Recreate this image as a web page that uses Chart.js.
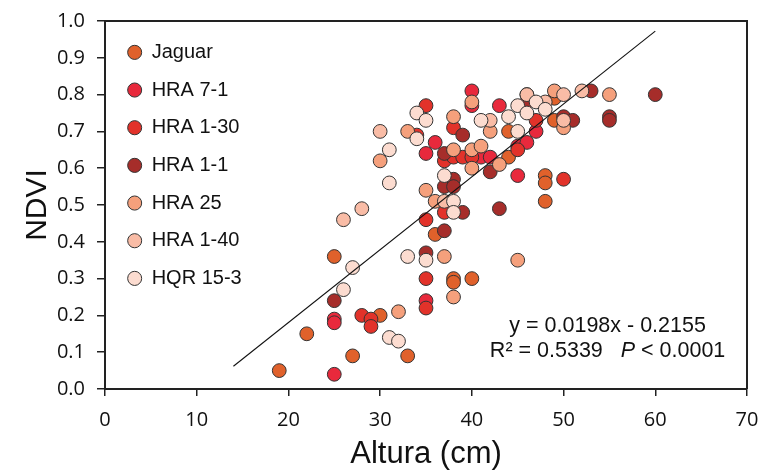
<!DOCTYPE html>
<html>
<head>
<meta charset="utf-8">
<script src="https://cdn.jsdelivr.net/npm/chart.js@4.4.1/dist/chart.umd.min.js"></script>
<style>
  html, body { margin: 0; padding: 0; background: #fff; }
  #wrap { width: 760px; height: 470px; }
</style>
</head>
<body>
<div id="wrap"><canvas id="c" width="760" height="470"></canvas></div>
<script>
// ---- data ----
const seriesNames = ["Jaguar", "HRA 7-1", "HRA 1-30", "HRA 1-1", "HRA 25", "HRA 1-40", "HQR 15-3"];

const jaguarX = [19, 22, 25, 27, 30, 33, 36, 38, 38, 40, 44, 44, 46, 48, 48, 48, 49, 49];
const jaguarY = [0.05, 0.15, 0.36, 0.09, 0.20, 0.09, 0.42, 0.30, 0.29, 0.30, 0.63, 0.70, 0.80, 0.58, 0.56, 0.51, 0.79, 0.73];

const hra71X = [25, 25, 25, 35, 35, 36, 40, 40, 41, 42, 43, 45, 45, 46, 47];
const hra71Y = [0.19, 0.18, 0.04, 0.24, 0.64, 0.67, 0.81, 0.77, 0.63, 0.63, 0.77, 0.58, 0.66, 0.67, 0.70];

const hra130X = [28, 29, 29, 35, 35, 35, 34, 35, 37, 37, 38, 39, 40, 38, 45, 47, 50];
const hra130Y = [0.20, 0.19, 0.17, 0.30, 0.22, 0.77, 0.69, 0.46, 0.48, 0.62, 0.63, 0.63, 0.63, 0.71, 0.65, 0.73, 0.57];

const hra11X = [25, 35, 37, 37, 37, 38, 38, 39, 39, 42, 43, 46, 50, 51, 53, 55, 55, 60];
const hra11Y = [0.24, 0.37, 0.43, 0.64, 0.55, 0.57, 0.55, 0.48, 0.69, 0.59, 0.49, 0.78, 0.74, 0.73, 0.81, 0.74, 0.73, 0.80];

const hra25X = [30, 32, 33, 35, 36, 37, 38, 38, 38, 40, 40, 40, 41, 42, 43, 45, 50, 55, 49];
const hra25Y = [0.62, 0.21, 0.70, 0.54, 0.51, 0.36, 0.25, 0.74, 0.65, 0.78, 0.65, 0.60, 0.66, 0.70, 0.61, 0.35, 0.71, 0.80, 0.81];

const hra140X = [26, 28, 30, 37, 42, 48, 50, 52, 50, 46];
const hra140Y = [0.46, 0.49, 0.70, 0.51, 0.73, 0.78, 0.80, 0.81, 0.73, 0.80];

const hqrX = [26, 27, 31, 32, 31, 31, 33, 34, 34, 35, 35, 37, 38, 38, 41, 44, 45, 45, 46, 47, 48];
const hqrY = [0.27, 0.33, 0.14, 0.13, 0.65, 0.56, 0.36, 0.75, 0.68, 0.73, 0.35, 0.58, 0.51, 0.48, 0.73, 0.74, 0.77, 0.70, 0.75, 0.78, 0.76];

// regression line end points (y = 0.0198x - 0.2155)
const trendX = [14, 60];
const trendY = [0.0617, 0.9725];

const xTicks = [0, 10, 20, 30, 40, 50, 60, 70];
const yTicks = [0.0, 0.1, 0.2, 0.3, 0.4, 0.5, 0.6, 0.7, 0.8, 0.9, 1.0];

const equationLine1 = "y = 0.0198x - 0.2155";
const equationLine2a = "R\u00B2 = 0.5339   ";
const equationLine2b = "P";
const equationLine2c = " < 0.0001";

// ---- styling ----
const colors = ["#e0612b", "#e8293c", "#e2322a", "#a62d2a", "#f5a07c", "#f9bca6", "#fcdcd0"];
const xsList = [jaguarX, hra71X, hra130X, hra11X, hra25X, hra140X, hqrX];
const ysList = [jaguarY, hra71Y, hra130Y, hra11Y, hra25Y, hra140Y, hqrY];

const pts = (xs, ys) => xs.map((x, i) => ({ x: x, y: ys[i] }));

const datasets = seriesNames.map((name, i) => ({
  type: 'scatter',
  label: name,
  data: pts(xsList[i], ysList[i]),
  backgroundColor: colors[i],
  borderColor: '#333',
  borderWidth: 1,
  pointRadius: 6.9,
  pointHoverRadius: 6.9,
  order: 10 - i
}));

datasets.push({
  type: 'line',
  label: 'trend',
  data: pts(trendX, trendY),
  borderColor: '#111',
  borderWidth: 1.1,
  pointRadius: 0,
  fill: false,
  order: 0
});

const FONT = "'Liberation Sans', Arial, sans-serif";
const TICKFONT = "'Open Sans', sans-serif";
const EQSIZE = 21.5;

const framePlugin = {
  id: 'frame',
  afterLayout(chart) {
    const lg = chart.legend;
    if (lg) { lg.left += 5; lg.right += 5; lg.top += 24.7; lg.bottom += 24.7; }
  },
  afterDraw(chart) {
    const { ctx, chartArea: a, scales } = chart;
    ctx.save();
    ctx.strokeStyle = '#222';
    ctx.lineWidth = 2;
    ctx.beginPath();
    ctx.moveTo(a.left, a.top);
    ctx.lineTo(a.right, a.top);
    ctx.lineTo(a.right, a.bottom);
    ctx.stroke();

    // equation text
    const cx = scales.x.getPixelForValue(54.8);
    const y1 = scales.y.getPixelForValue(0.170);
    const y2 = scales.y.getPixelForValue(0.104);
    ctx.fillStyle = '#111';
    ctx.textBaseline = 'middle';
    ctx.textAlign = 'center';
    const fN = EQSIZE + "px " + FONT, fI = "italic " + EQSIZE + "px " + FONT;
    ctx.font = fN;
    ctx.fillText(equationLine1, cx, y1);
    ctx.textAlign = 'left';
    ctx.font = fN; const wa = ctx.measureText(equationLine2a).width;
    ctx.font = fI; const wb = ctx.measureText(equationLine2b).width;
    ctx.font = fN; const wc = ctx.measureText(equationLine2c).width;
    let x0 = cx - (wa + wb + wc) / 2;
    ctx.font = fN; ctx.fillText(equationLine2a, x0, y2);
    ctx.font = fI; ctx.fillText(equationLine2b, x0 + wa, y2);
    ctx.font = fN; ctx.fillText(equationLine2c, x0 + wa + wb, y2);
    ctx.restore();
  }
};

new Chart(document.getElementById('c'), {
  type: 'scatter',
  data: { datasets: datasets },
  options: {
    responsive: false,
    animation: false,
    events: [],
    layout: { padding: { left: 0, right: 13, top: 21, bottom: 0 } },
    plugins: {
      tooltip: { enabled: false },
      legend: {
        position: 'chartArea',
        align: 'start',
        labels: {
          usePointStyle: true,
          pointStyle: 'circle',
          pointStyleWidth: 14,
          boxHeight: 10,
          padding: 17.67,
          color: '#111',
          font: { family: FONT, size: 20 },
          filter: (item) => item.text !== 'trend',
          sort: (a, b) => a.datasetIndex - b.datasetIndex
        }
      }
    },
    scales: {
      x: {
        type: 'linear',
        min: 0, max: 70,
        afterBuildTicks: (s) => { s.ticks = xTicks.map(v => ({ value: v })); },
        afterFit: (s) => { s.height = 81; s.paddingLeft = 0; s.paddingRight = 0; },
        grid: { drawOnChartArea: false, drawTicks: true, tickLength: 7, color: '#222', lineWidth: 1.5 },
        border: { display: true, color: '#222', width: 2 },
        ticks: { color: '#111', padding: 12, font: { family: TICKFONT, size: 20 } },
        title: { display: true, text: 'Altura (cm)', color: '#111', font: { family: FONT, size: 31, lineHeight: 1 }, padding: { top: 0, bottom: 0 } }
      },
      y: {
        type: 'linear',
        min: 0, max: 1,
        afterBuildTicks: (s) => { s.ticks = yTicks.map(v => ({ value: v })); },
        afterFit: (s) => { s.width = 105; s.paddingTop = 0; s.paddingBottom = 0; },
        grid: { drawOnChartArea: false, drawTicks: true, tickLength: 8, color: '#222', lineWidth: 1.5 },
        border: { display: true, color: '#222', width: 2 },
        ticks: { color: '#111', padding: 12, font: { family: TICKFONT, size: 20 }, callback: (v) => Number(v).toFixed(1) },
        title: { display: true, text: 'NDVI', color: '#111', font: { family: FONT, size: 30, lineHeight: 1 }, padding: { top: 23, bottom: 0 } }
      }
    }
  },
  plugins: [framePlugin]
});
</script>
</body>
</html>
